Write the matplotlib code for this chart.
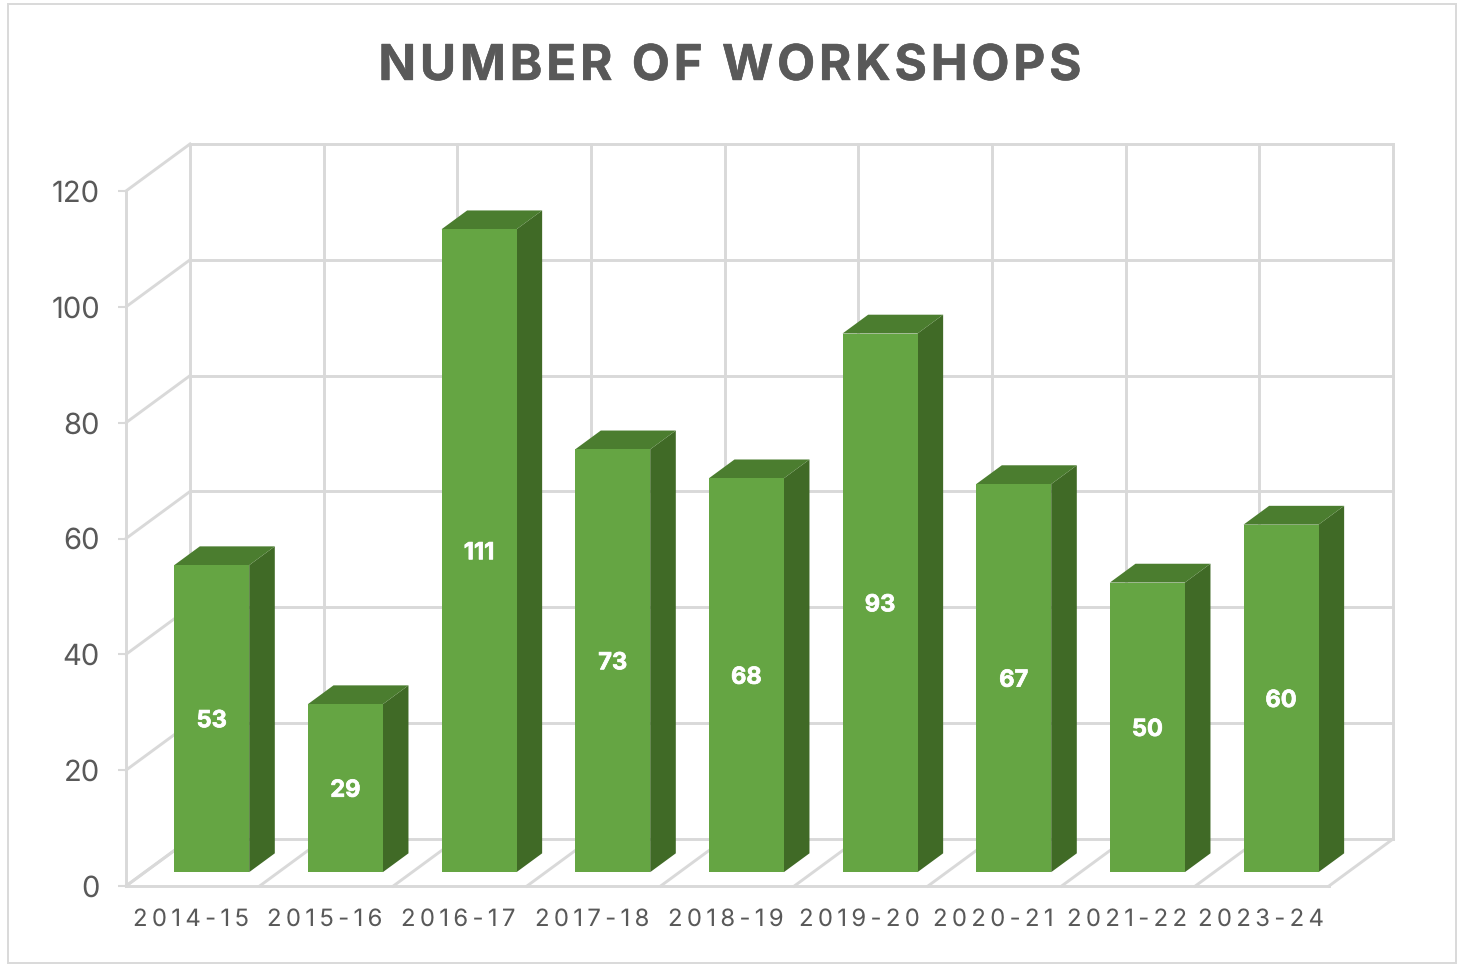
import matplotlib
matplotlib.use('Agg')
import matplotlib.pyplot as plt
import matplotlib.patheffects as pe
from matplotlib.patches import Polygon, Rectangle

plt.rcParams['font.family'] = ['Inter', 'DejaVu Sans']
plt.rcParams['text.hinting'] = 'no_hinting'
plt.rcParams['text.hinting_factor'] = 1

categories = ['2014-15', '2015-16', '2016-17', '2017-18', '2018-19',
              '2019-20', '2020-21', '2021-22', '2023-24']
workshops = [53, 29, 111, 73, 68, 93, 67, 50, 60]
y_ticks = [0, 20, 40, 60, 80, 100, 120]
title = 'NUMBER OF WORKSHOPS'

W, H = 1468, 972
GRID = '#d9d9d9'
TEXT = '#595959'
FRONT, SIDE, TOP = '#65a543', '#406a26', '#4b7d2f'

# depth of the fake 3d box, in data units
DX = 64 / 133.67
DY = 47 / 5.79
BAR_W = 0.561
D0, D1 = 0.295, 0.695  # bar start and end along the depth


def spaced(s, sp='\u200a'):
    return sp.join(s)


def proj(x, v, d):
    return x + d * DX, v + d * DY


fig = plt.figure(figsize=(W / 100, H / 100), dpi=100, facecolor='w')
fig.add_artist(Rectangle((8 / W, 1 - 963 / H), 1448 / W, 959 / H, transform=fig.transFigure,
                         fill=False, edgecolor=GRID, lw=1.4))
ax = fig.add_axes([126 / W, 1 - 886 / H, 1203 / W, 695 / H])
ax.set_xlim(0, len(categories))
ax.set_ylim(0, 120)
ax.patch.set_visible(False)
for s in ax.spines.values():
    s.set_visible(False)


def line(p, q):
    ax.plot([p[0], q[0]], [p[1], q[1]], color=GRID, lw=2.1, clip_on=False, zorder=1,
            solid_capstyle='projecting')


n = len(categories)
for v in y_ticks:
    line(proj(0, v, 0), proj(0, v, 1))  # left wall
    line(proj(0, v, 1), proj(n, v, 1))  # back wall
for i in range(n + 1):
    line(proj(i, 0, 0), proj(i, 0, 1))  # floor
    line(proj(i, 0, 1), proj(i, 120, 1))
line((0, 0), (0, 120))
line((0, 0), (n, 0))

bold = [pe.withStroke(linewidth=0.5, foreground='w')]
for i, val in enumerate(workshops):
    c = i + 0.5
    l, r = c - BAR_W / 2, c + BAR_W / 2
    fl = proj(l, 0, D0)
    fr = proj(r, 0, D0)
    tl = proj(l, val, D0)
    tr = proj(r, val, D0)
    bl = proj(l, val, D1)
    br = proj(r, val, D1)
    rb = proj(r, 0, D1)
    ax.add_patch(Polygon([fr, rb, br, tr], facecolor=SIDE, edgecolor='none', clip_on=False, zorder=3))
    ax.add_patch(Polygon([tl, bl, br, tr], facecolor=TOP, edgecolor='none', clip_on=False, zorder=3))
    ax.add_patch(Polygon([fl, fr, tr, tl], facecolor=FRONT, edgecolor='none', clip_on=False, zorder=3))
    mx, my = proj(c, val / 2, D0)
    ax.text(mx, my, str(val), color='w', fontsize=17, fontweight='bold', ha='center',
            va='center_baseline', zorder=4, path_effects=bold)

ax.set_yticks(y_ticks)
ax.tick_params(axis='y', length=5.8, width=1.5, color=GRID, labelcolor=TEXT, labelsize=21, pad=13)
for t in ax.get_yticklabels():
    t.set_verticalalignment('center_baseline')
ax.set_xticks([i + 0.489 for i in range(n)])
ax.set_xticklabels([spaced(c, '\u2009') for c in categories])
ax.tick_params(axis='x', length=0, labelcolor=TEXT, labelsize=17.2, pad=16)

fig.text(730 / W, 1 - 62 / H, spaced(title), color=TEXT, fontsize=35.5, fontweight='bold',
         ha='center', va='center_baseline',
         path_effects=[pe.withStroke(linewidth=0.4, foreground=TEXT)])

fig.savefig('out.png', dpi=100, facecolor='w')
